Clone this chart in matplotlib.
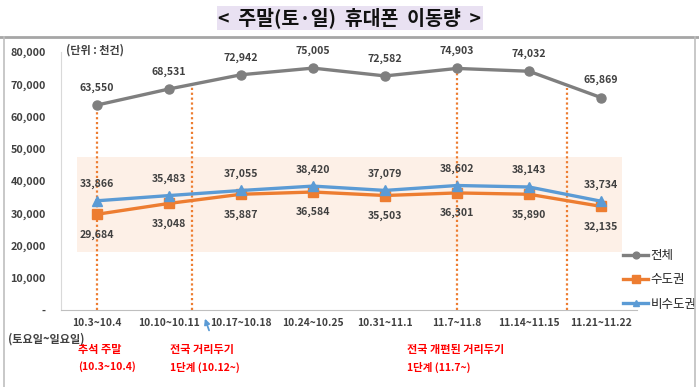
import matplotlib
matplotlib.use("Agg")
import matplotlib.pyplot as plt
from matplotlib.lines import Line2D
from matplotlib.patches import Rectangle

plt.rcParams['font.family'] = ['Noto Sans CJK KR', 'DejaVu Sans']

title = "<  주말(토·일)  휴대폰  이동량  >"
categories = ["10.3~10.4", "10.10~10.11", "10.17~10.18", "10.24~10.25",
              "10.31~11.1", "11.7~11.8", "11.14~11.15", "11.21~11.22"]
total = [63550, 68531, 72942, 75005, 72582, 74903, 74032, 65869]
capital = [29684, 33048, 35887, 36584, 35503, 36301, 35890, 32135]
noncapital = [33866, 35483, 37055, 38420, 37079, 38602, 38143, 33734]
series_names = ["전체", "수도권", "비수도권"]
yticks = [0, 10000, 20000, 30000, 40000, 50000, 60000, 70000, 80000]
ytick_labels = ["-", "10,000", "20,000", "30,000", "40,000", "50,000", "60,000", "70,000", "80,000"]
event_x = [0, 1.32, 5, 6.53]
event_top = [63550, 69500, 75005, 68800]
band_x = (-0.28, 7.29)
band_y = (18000, 47500)

W, H = 699, 387
fig = plt.figure(figsize=(W/100, H/100), dpi=100)

def fx(px): return px / W
def fy(py): return 1 - py / H

# title
fig.text(fx(350), fy(18), title, ha='center', va='center', fontsize=14, fontweight='bold',
         color='#111111', bbox=dict(facecolor='#E9E1F2', edgecolor='none', pad=1.0))
# separator line and frame
fig.add_artist(Line2D([0, 1], [fy(37), fy(37)], color='#A6A6A6', lw=2, transform=fig.transFigure))
fig.add_artist(Line2D([fx(4), fx(4)], [0, fy(37)], color='#BFBFBF', lw=1.2, transform=fig.transFigure))
fig.add_artist(Line2D([fx(695), fx(695)], [0, fy(37)], color='#BFBFBF', lw=1.2, transform=fig.transFigure))

ax = fig.add_axes([fx(61), fy(310), fx(637) - fx(61), fy(52) - fy(310)])
x = list(range(len(categories)))
ax.set_xlim(-0.5, len(categories) - 0.5)
ax.set_ylim(0, 80000)

ax.add_patch(Rectangle((band_x[0], band_y[0]), band_x[1] - band_x[0], band_y[1] - band_y[0],
                       facecolor='#FDF0E7', edgecolor='none', zorder=0))

for ex, et in zip(event_x, event_top):
    ax.plot([ex, ex], [0, et], color='#ED7D31', lw=1.6, ls=(0, (1, 1.2)), zorder=1)

c_gray, c_orange, c_blue = '#7F7F7F', '#ED7D31', '#5B9BD5'
ax.plot(x, total, color=c_gray, lw=2.4, marker='o', ms=6.5, zorder=3, label=series_names[0])
ax.plot(x, capital, color=c_orange, lw=2.4, marker='s', ms=7, zorder=3, label=series_names[1])
ax.plot(x, noncapital, color=c_blue, lw=2.4, marker='^', ms=6.5, zorder=4, label=series_names[2])

lab_kw = dict(ha='center', va='center', fontsize=7.6, color='#404040', fontweight='bold')
for xi, v in zip(x, total):
    ax.annotate(f"{v:,}", (xi, v), xytext=(0, 12.5), textcoords='offset points', **lab_kw)
for xi, v in zip(x, noncapital):
    ax.annotate(f"{v:,}", (xi, v), xytext=(0, 12), textcoords='offset points', **lab_kw)
for xi, v in zip(x, capital):
    ax.annotate(f"{v:,}", (xi, v), xytext=(0, -14.5), textcoords='offset points', **lab_kw)

ax.set_xticks(x)
ax.set_xticklabels(categories, fontsize=7.4, color='#404040', fontweight='bold')
ax.set_yticks(yticks)
ax.set_yticklabels(ytick_labels, fontsize=7.8, color='#404040', fontweight='bold')
ax.tick_params(axis='x', length=0, pad=6)
ax.tick_params(axis='y', length=0, pad=11)
for s in ['top', 'right']:
    ax.spines[s].set_visible(False)
ax.spines['left'].set_color('#D9D9D9')
ax.spines['bottom'].set_color('#BFBFBF')
ax.patch.set_alpha(0)

ax.legend(loc='upper left', bbox_to_anchor=(fx(612), fy(238)), bbox_transform=fig.transFigure,
          frameon=False, fontsize=9, handlelength=2.0, labelspacing=0.9, handletextpad=0.2,
          markerscale=0.75, labelcolor='#222222')

fig.text(fx(66), fy(50), "(단위 : 천건)", fontsize=8, fontweight='bold', color='#404040', va='center')
fig.text(fx(8), fy(339), "(토요일~일요일)", fontsize=8, fontweight='bold', color='#404040', va='center')

red = '#FF0000'
notes = [(78, "추석 주말", "(10.3~10.4)"), (170, "전국 거리두기", "1단계 (10.12~)"),
         (407, "전국 개편된 거리두기", "1단계 (11.7~)")]
for px, l1, l2 in notes:
    fig.text(fx(px), fy(350), l1, fontsize=8, fontweight='bold', color=red, va='center')
    fig.text(fx(px), fy(367), l2, fontsize=7.5, fontweight='bold', color=red, va='center')

fig.add_artist(matplotlib.patches.FancyArrowPatch((fx(210), fy(333)), (fx(204), fy(316)),
               transform=fig.transFigure, arrowstyle='-|>', mutation_scale=8,
               color=c_blue, lw=1.3))

fig.savefig("out.png", dpi=100)
